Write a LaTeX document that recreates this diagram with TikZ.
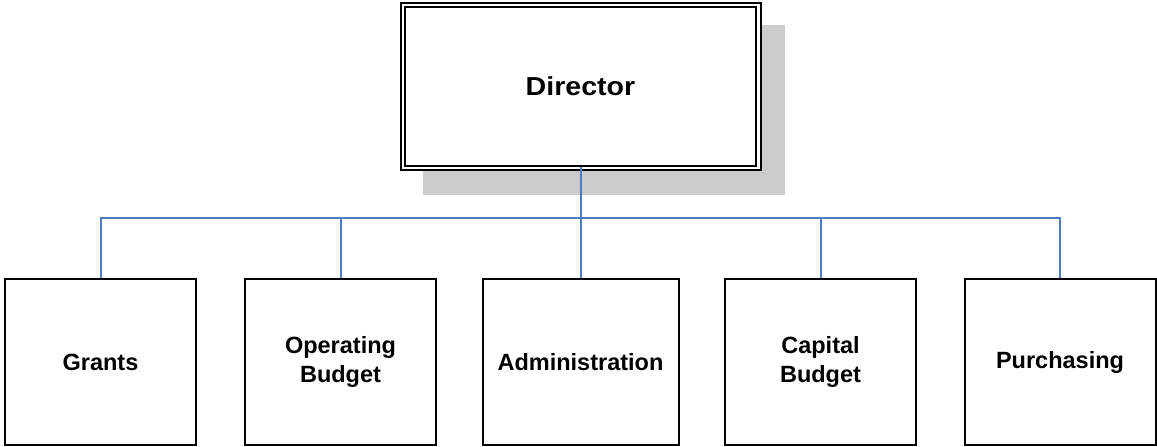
\documentclass[tikz,border=0pt]{standalone}
\usepackage{fontspec}
\setmainfont{Liberation Sans}
\definecolor{shadowgray}{RGB}{204,204,204}
\definecolor{linkblue}{RGB}{74,126,193}
\begin{document}
\begin{tikzpicture}[x=1pt,y=-1pt,
  box/.style={draw=black,line width=2pt,minimum width=191pt,minimum height=166pt,
    inner sep=0pt,fill=white,font=\fontsize{23.5}{28.4}\selectfont\bfseries,align=center},
  conn/.style={draw=linkblue,line width=2pt},
  topbox/.style={draw=black,line width=1.6pt,minimum width=351pt,minimum height=159pt,
    inner sep=0pt,font=\fontsize{26}{30}\selectfont\bfseries}]
\useasboundingbox (0,0) rectangle (1157,447);
% shadow
\fill[shadowgray] (423,25) rectangle (785,195);
% outer frame of director
\draw[line width=2pt,fill=white] (400.5,2.7) rectangle (760.7,169.7);
\node[topbox] (dir) at (580.5,86.2) {\scalebox{1.1}[1]{Director}};
% bottom boxes
\node[box] (grants) at (100.5,362) {Grants};
\node[box] (oper) at (340.5,362) {Operating\\Budget};
\node[box,minimum width=196pt] (admin) at (580.5,362) {Administration};
\node[box] (cap) at (820.5,362) {Capital\\Budget};
\node[box] (purch) at (1060,362) {Purchasing};
% connectors
\coordinate (bar) at (580.5,218);
\draw[conn] (dir.south) -- (admin.north);
\draw[conn] (grants.north) -- (grants.north |- bar) -- (purch.north |- bar) -- (purch.north);
\draw[conn] (oper.north) -- (oper.north |- bar);
\draw[conn] (cap.north) -- (cap.north |- bar);
\end{tikzpicture}
\end{document}
